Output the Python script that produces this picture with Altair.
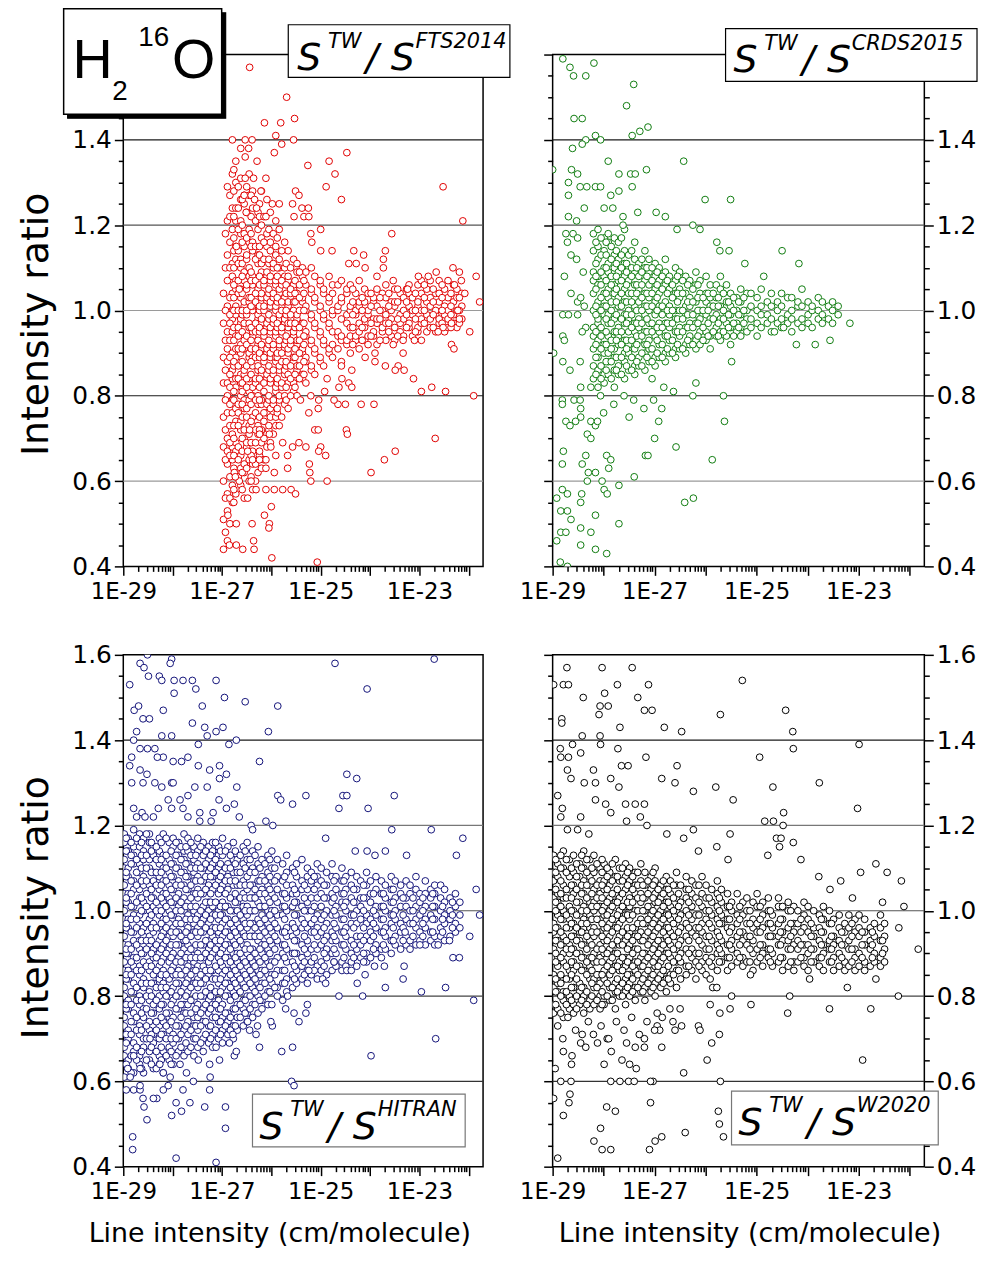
import altair as alt
import pandas as pd

# log10(S / cm molecule-1) and intensity ratio in percent.
# scattered points are (logS, ratio%); the dense core is given column by column.

fts_points = [
    (-26.44, 157), (-25.69, 150), (-26.14, 144), (-25.81, 144), (-25.53, 145), (-26.53, 140), (-26.39, 140),
    (-26.46, 138), (-26.53, 136), (-26.29, 135), (-25.91, 141), (-25.79, 139), (-25.55, 140), (-25.94, 137),
    (-24.47, 137), (-25.26, 134), (-24.83, 135), (-24.71, 132), (-24.89, 129), (-24.58, 126), (-22.52, 129),
    (-22.12, 121), (-23.56, 118), (-25.00, 119), (-26.71, 115), (-26.65, 105), (-21.85, 108), (-21.78, 102),
    (-21.98, 95), (-22.35, 92), (-22.30, 91), (-21.90, 80), (-22.96, 81), (-22.75, 82), (-22.47, 81),
    (-22.68, 70), (-23.49, 67), (-23.71, 65), (-23.98, 62), (-24.48, 72), (-24.46, 71), (-24.18, 78),
    (-23.92, 78), (-24.87, 60), (-25.20, 60), (-25.23, 64), (-25.22, 62), (-25.00, 68), (-25.07, 41),
    (-25.99, 42), (-26.85, 45), (-26.71, 45), (-26.58, 44), (-26.36, 46), (-26.35, 44), (-26.88, 52),
    (-26.71, 50), (-26.76, 55), (-26.39, 50), (-26.14, 52), (-26.00, 54), (-26.04, 50), (-26.05, 49),
    (-26.53, 131), (-26.36, 131), (-26.11, 131), (-26.55, 127), (-26.34, 126), (-26.21, 128), (-25.98, 125),
    (-25.84, 125), (-25.57, 125), (-25.38, 124), (-25.25, 124), (-26.51, 123), (-26.30, 124), (-26.11, 122),
    (-25.51, 128), (-25.44, 127), (-25.54, 122), (-25.34, 122), (-25.24, 122), (-25.20, 118), (-25.18, 116),
    (-25.00, 114), (-24.77, 114), (-24.33, 114), (-24.13, 113), (-23.69, 114), (-23.73, 112), (-23.73, 110),
    (-24.43, 111), (-24.28, 111), (-24.10, 110), (-23.86, 108), (-23.53, 107), (-23.24, 105), (-23.02, 108),
    (-22.82, 108), (-22.66, 109), (-22.32, 110), (-22.19, 109), (-22.15, 107), (-22.29, 106), (-22.08, 104),
    (-22.22, 100), (-22.19, 98), (-22.35, 97), (-22.52, 96), (-22.62, 95), (-22.96, 93), (-23.10, 93),
    (-23.33, 93), (-23.33, 90), (-23.53, 92), (-23.69, 87), (-23.43, 87), (-23.31, 86), (-23.49, 86),
    (-23.12, 84), (-23.90, 88), (-23.90, 90), (-24.10, 89), (-24.37, 86), (-24.58, 87), (-24.57, 84),
    (-24.43, 83), (-24.37, 82), (-24.63, 82), (-24.65, 78), (-24.50, 78), (-24.73, 79), (-25.04, 79),
    (-25.20, 80), (-25.41, 79), (-25.24, 76), (-25.05, 77), (-24.87, 84), (-24.92, 81), (-25.12, 72),
    (-25.05, 72), (-25.30, 68), (-25.04, 67), (-24.90, 66), (-25.44, 69), (-25.57, 68), (-25.77, 69),
    (-25.67, 66), (-25.91, 66), (-26.11, 65), (-26.01, 68), (-26.24, 71), (-26.04, 71), (-26.44, 72),
    (-26.48, 67), (-26.38, 65), (-26.24, 65), (-26.11, 63), (-25.94, 62), (-25.67, 63), (-25.77, 58),
    (-25.60, 58), (-25.51, 57), (-25.94, 58), (-26.11, 58), (-26.31, 58), (-26.48, 56), (-26.41, 60),
    (-26.65, 60), (-26.75, 62), (-26.73, 61),
]
fts_core_logS = [
    -26.97, -26.89, -26.79, -26.72, -26.62, -26.55, -26.45, -26.38, -26.27, -26.20, -26.09, -26.02, -25.91,
    -25.84, -25.73, -25.66, -25.55, -25.48, -25.37, -25.30, -25.19, -25.12, -25.01, -24.94, -24.83, -24.76,
    -24.65, -24.58, -24.47, -24.40, -24.29, -24.22, -24.11, -24.04, -23.93, -23.86, -23.75, -23.68, -23.57,
    -23.50, -23.39, -23.32, -23.21, -23.14, -23.03, -22.96, -22.85, -22.78, -22.67, -22.60, -22.49, -22.42,
    -22.31, -22.24, -22.14,
]
fts_core_pct = [
    [44, 51, 60, 68, 75, 83, 89, 97, 104],
    [46, 53, 57, 64, 67, 70, 76, 80, 83, 88, 91, 95, 101, 107, 113, 121, 129],
    [55, 59, 65, 68, 71, 76, 79, 84, 86, 90, 95, 98, 100, 104, 108, 111, 119, 124, 132, 140],
    [57, 61, 67, 69, 74, 77, 82, 84, 89, 91, 94, 99, 101, 105, 107, 112, 115, 121, 124, 130, 135],
    [59, 63, 66, 72, 74, 80, 83, 85, 90, 92, 97, 98, 103, 105, 110, 112, 118, 121, 126, 131, 138],
    [56, 62, 64, 70, 72, 77, 79, 85, 86, 91, 93, 97, 101, 102, 107, 109, 115, 118, 125, 127],
    [60, 65, 71, 73, 79, 81, 84, 89, 90, 96, 97, 102, 103, 108, 110, 116, 119, 127, 132],
    [58, 64, 67, 73, 75, 80, 82, 87, 89, 94, 95, 100, 101, 106, 108, 114, 116, 124, 128],
    [62, 65, 71, 73, 78, 80, 86, 87, 92, 93, 98, 99, 104, 105, 111, 113, 119, 123],
    [63, 69, 72, 78, 79, 85, 86, 91, 92, 97, 98, 103, 104, 109, 111, 117, 120, 128],
    [68, 71, 76, 78, 84, 85, 90, 91, 96, 97, 102, 103, 108, 109, 115, 118, 126],
    [69, 75, 77, 83, 84, 89, 90, 95, 96, 101, 102, 107, 108, 114, 116, 123],
    [73, 75, 81, 82, 88, 89, 94, 95, 100, 101, 106, 107, 113, 115, 121],
    [73, 79, 80, 86, 87, 92, 93, 98, 99, 104, 105, 110, 112, 119],
    [78, 80, 85, 86, 91, 92, 97, 98, 102, 103, 108, 110, 116],
    [77, 83, 85, 90, 91, 96, 97, 101, 102, 107, 108, 114],
    [81, 83, 88, 89, 94, 95, 100, 102, 105, 106, 112],
    [80, 86, 87, 92, 93, 98, 99, 103, 104, 109, 111],
    [84, 85, 90, 91, 96, 97, 102, 103, 108, 110],
    [83, 88, 89, 94, 95, 100, 101, 106, 109],
    [86, 87, 92, 93, 98, 99, 104, 105, 110],
    [85, 90, 91, 96, 97, 102, 103, 108],
    [88, 89, 94, 95, 100, 101, 106, 107],
    [87, 92, 93, 98, 99, 104, 105],
    [90, 91, 96, 97, 102, 103, 108],
    [89, 92, 95, 99, 100, 104, 106],
    [91, 94, 95, 100, 101, 106],
    [88, 93, 94, 98, 102, 103, 107],
    [92, 93, 97, 99, 104, 105],
    [90, 94, 96, 100, 101, 106],
    [93, 94, 99, 100, 104],
    [91, 95, 97, 101, 102, 107],
    [93, 96, 98, 102, 105],
    [92, 94, 99, 100, 104],
    [94, 95, 98, 102, 103],
    [92, 97, 98, 101, 105],
    [95, 96, 100, 104],
    [93, 97, 99, 103, 106],
    [94, 98, 100, 102],
    [93, 96, 101, 102, 105],
    [95, 97, 99, 104],
    [94, 98, 100, 103],
    [96, 97, 101, 104, 106],
    [94, 99, 100, 103],
    [95, 96, 101, 102, 106],
    [97, 98, 100, 104, 107],
    [95, 99, 102, 105],
    [96, 98, 101, 103, 107],
    [95, 99, 100, 104],
    [97, 98, 102, 104, 107],
    [95, 99, 101, 105],
    [96, 98, 100, 103, 107],
    [97, 99, 102, 106],
    [96, 100, 103, 105],
    [98, 101, 104],
]
fts_fill_logS = [
    -26.93, -26.84, -26.76, -26.67, -26.59, -26.50, -26.41, -26.32, -26.24, -26.15, -26.05, -25.96, -25.88,
    -25.79, -25.70, -25.61, -25.52, -25.43, -25.34, -24.35, -24.16, -23.98, -23.80, -23.62, -23.44, -23.26,
    -23.08, -22.90, -22.72, -22.54, -22.36, -22.19,
]
fts_fill_pct = [
    [48, 56, 65, 72, 79, 86, 93, 100, 110, 118],
    [50, 56, 61, 66, 69, 73, 78, 82, 85, 89, 93, 97, 99, 103, 110, 116, 122, 127],
    [58, 63, 66, 70, 73, 79, 81, 87, 88, 93, 96, 100, 103, 106, 110, 114, 117, 122, 128, 133],
    [61, 65, 68, 73, 76, 78, 84, 87, 91, 94, 96, 100, 104, 107, 111, 114, 119, 124, 129],
    [58, 62, 67, 70, 75, 78, 81, 83, 88, 91, 95, 99, 100, 104, 108, 111, 116, 120, 126],
    [63, 68, 69, 75, 77, 82, 84, 87, 92, 94, 99, 100, 105, 106, 112, 113, 117, 123, 129],
    [61, 66, 69, 74, 78, 80, 85, 88, 91, 93, 96, 101, 103, 107, 109, 115, 118, 122, 127],
    [60, 64, 69, 72, 76, 79, 83, 84, 89, 91, 95, 97, 102, 104, 107, 112, 115, 121],
    [66, 67, 72, 75, 79, 82, 84, 89, 90, 95, 96, 100, 101, 106, 108, 113, 115, 122, 125],
    [65, 70, 74, 76, 81, 83, 88, 89, 94, 95, 100, 101, 106, 107, 112, 116, 122],
    [72, 73, 79, 80, 86, 87, 92, 93, 98, 99, 104, 105, 111, 112, 119],
    [71, 78, 79, 85, 86, 91, 92, 97, 98, 103, 104, 110, 111, 118],
    [76, 77, 83, 84, 89, 90, 96, 97, 102, 103, 108, 110, 117],
    [75, 82, 83, 88, 90, 95, 96, 100, 102, 106, 107, 114],
    [79, 82, 87, 88, 93, 94, 99, 100, 104, 106, 111],
    [80, 84, 87, 92, 93, 97, 99, 104, 105, 110],
    [82, 85, 89, 91, 96, 97, 102, 104, 107],
    [84, 87, 90, 93, 96, 100, 103, 106, 109],
    [85, 88, 92, 94, 97, 100, 104, 107],
    [92, 96, 99, 102, 105],
    [93, 96, 100, 103],
    [94, 97, 101, 104],
    [93, 98, 100, 103],
    [95, 97, 101, 104],
    [94, 98, 102, 105],
    [96, 99, 102, 105],
    [95, 98, 100, 104],
    [97, 100, 103, 106],
    [96, 99, 102, 105],
    [97, 100, 103, 106],
    [96, 99, 101, 104],
    [97, 100, 103],
]

crds_points = [
    (-28.80, 159), (-28.66, 157), (-28.19, 158), (-28.59, 155), (-28.35, 155), (-27.41, 153), (-27.55, 148),
    (-28.58, 145), (-28.42, 145), (-28.16, 141), (-28.35, 140), (-28.06, 140), (-27.44, 141), (-27.29, 142),
    (-27.13, 143), (-28.61, 138), (-28.42, 139), (-29.00, 133), (-27.91, 135), (-26.43, 135), (-28.63, 133),
    (-28.51, 132), (-28.69, 130), (-28.46, 129), (-28.33, 129), (-28.16, 129), (-28.06, 129), (-27.70, 132),
    (-27.47, 132), (-27.38, 132), (-27.16, 133), (-28.69, 127), (-27.86, 127), (-27.70, 128), (-27.44, 129),
    (-26.01, 126), (-25.51, 126), (-27.99, 124), (-27.82, 124), (-27.62, 122), (-27.33, 123), (-26.97, 123),
    (-26.79, 122), (-28.69, 122), (-28.53, 121), (-28.38, 124), (-27.62, 120), (-26.56, 119), (-26.25, 120),
    (-26.11, 119), (-25.78, 116), (-25.72, 114), (-25.54, 114), (-24.50, 114), (-24.17, 111), (-25.23, 111),
    (-24.86, 108), (-28.77, 108), (-28.80, 99), (-28.69, 99), (-28.51, 99), (-28.80, 94), (-28.77, 93),
    (-28.64, 104), (-28.51, 102), (-28.45, 103), (-28.38, 101), (-28.35, 96), (-28.42, 95), (-28.40, 109),
    (-28.64, 113), (-28.53, 112), (-28.71, 116), (-28.60, 118), (-28.74, 118), (-28.51, 117), (-28.98, 90),
    (-28.80, 88), (-28.46, 88), (-28.66, 86), (-25.49, 88), (-24.22, 92), (-23.85, 92), (-23.56, 93),
    (-24.65, 95), (-24.47, 96), (-23.17, 97), (-26.19, 83), (-26.25, 80), (-25.65, 80), (-25.63, 74),
    (-26.63, 81), (-26.82, 82), (-27.02, 79), (-26.86, 77), (-26.92, 74), (-27.00, 70), (-26.58, 68),
    (-27.18, 66), (-27.13, 66), (-25.87, 65), (-27.40, 61), (-27.70, 59), (-26.41, 55), (-26.24, 56),
    (-28.81, 79), (-28.81, 78), (-28.58, 79), (-28.46, 79), (-28.45, 77), (-28.45, 75), (-28.74, 74),
    (-28.66, 73), (-28.55, 74), (-28.25, 74), (-28.16, 73), (-28.12, 74), (-28.32, 71), (-28.25, 70),
    (-28.79, 67), (-28.81, 64), (-28.42, 64), (-28.35, 66), (-27.94, 66), (-27.86, 65), (-27.90, 63),
    (-28.30, 62), (-28.16, 62), (-28.32, 60), (-28.03, 60), (-27.99, 58), (-27.93, 57), (-28.81, 58),
    (-28.92, 56), (-28.71, 57), (-28.43, 57), (-28.45, 55), (-28.84, 53), (-28.71, 53), (-28.64, 51),
    (-28.45, 49), (-28.16, 52), (-27.70, 50), (-28.84, 48), (-28.92, 46), (-28.74, 48), (-28.45, 45),
    (-28.25, 48), (-28.16, 44), (-27.94, 43), (-28.85, 41), (-28.71, 40), (-28.45, 82), (-28.25, 82),
    (-28.06, 80), (-27.80, 78), (-27.60, 80), (-27.41, 79), (-27.21, 77), (-27.05, 84), (-28.00, 76),
    (-27.50, 75),
]
crds_core_logS = [
    -28.20, -28.11, -27.99, -27.91, -27.79, -27.71, -27.59, -27.51, -27.39, -27.31, -27.19, -27.11, -26.99,
    -26.91, -26.79, -26.71, -26.59, -26.51, -26.39, -26.31, -26.19, -26.11, -25.99, -25.91, -25.79, -25.71,
    -25.59, -25.51, -25.39, -25.31, -25.19, -25.11, -24.99, -24.91, -24.79, -24.71, -24.59, -24.51, -24.39,
    -24.31, -24.19, -24.11, -23.99, -23.91, -23.79, -23.71, -23.59, -23.51, -23.40,
]
crds_core_pct = [
    [84, 87, 91, 94, 96, 100, 104, 107, 109, 114, 118],
    [82, 86, 89, 93, 97, 98, 102, 106, 108, 112, 115, 119],
    [83, 85, 90, 92, 95, 99, 101, 104, 108, 110, 114, 117],
    [85, 88, 90, 94, 97, 99, 103, 105, 109, 111, 116, 118],
    [82, 86, 89, 91, 95, 98, 100, 104, 106, 110, 113, 117],
    [85, 87, 92, 94, 96, 101, 103, 107, 109, 112, 116],
    [84, 88, 90, 93, 97, 99, 102, 105, 108, 111, 114, 119],
    [86, 90, 92, 95, 98, 100, 104, 107, 110, 113],
    [85, 87, 91, 95, 97, 101, 103, 106, 109, 112, 116],
    [87, 89, 93, 96, 98, 102, 105, 108, 111],
    [86, 90, 92, 95, 99, 101, 104, 107, 110, 114],
    [88, 91, 93, 97, 100, 103, 106, 109, 112],
    [87, 89, 94, 96, 99, 102, 105, 108, 111],
    [89, 92, 95, 97, 101, 104, 107, 110],
    [88, 90, 94, 97, 100, 102, 106, 109, 112],
    [90, 93, 96, 99, 101, 105, 108],
    [89, 91, 95, 98, 100, 104, 107, 110],
    [91, 94, 96, 100, 103, 105, 109],
    [90, 92, 96, 99, 101, 104, 108],
    [92, 94, 97, 101, 103, 107],
    [91, 93, 97, 99, 102, 106, 109],
    [92, 95, 98, 100, 104, 107],
    [93, 95, 99, 102, 104, 108],
    [91, 94, 98, 101, 103, 106],
    [94, 96, 99, 103, 106],
    [93, 95, 98, 101, 105, 108],
    [94, 97, 99, 102, 106],
    [92, 96, 99, 101, 104],
    [95, 97, 100, 103],
    [94, 96, 99, 102, 105],
    [95, 98, 100, 104],
    [96, 98, 101, 104],
    [94, 97, 100, 103],
    [96, 99, 101, 105],
    [97, 99, 102],
    [95, 98, 101, 104],
    [97, 100, 102],
    [96, 98, 101, 104],
    [97, 99, 103],
    [95, 98, 100, 103],
    [97, 101, 102],
    [96, 98, 101, 105],
    [97, 99, 102],
    [96, 100, 101],
    [98, 100, 103],
    [97, 99, 102],
    [98, 101],
    [97, 100, 102],
    [99, 101],
]
crds_fill_logS = [
    -28.15, -28.05, -27.95, -27.85, -27.75, -27.65, -27.55, -27.45, -27.35, -27.25, -27.15, -27.05, -26.95,
    -26.85, -26.75, -26.65, -26.55, -26.45, -26.35, -26.25, -26.15, -26.05, -25.95, -25.85, -25.75, -25.65,
    -25.55, -25.45, -25.35, -25.25,
]
crds_fill_pct = [
    [85, 89, 92, 95, 99, 101, 105, 108, 111, 116],
    [84, 87, 91, 94, 96, 100, 103, 106, 109, 113, 117],
    [86, 88, 92, 95, 98, 101, 104, 107, 110, 113, 116],
    [84, 88, 91, 93, 97, 100, 102, 106, 108, 112, 115],
    [86, 89, 93, 95, 99, 102, 105, 108, 111, 114],
    [85, 89, 92, 95, 98, 101, 104, 107, 110, 113, 117],
    [87, 91, 93, 97, 99, 102, 106, 109, 111],
    [86, 89, 93, 96, 99, 102, 104, 108, 110, 114],
    [88, 92, 94, 97, 100, 104, 106, 110],
    [87, 90, 94, 97, 100, 103, 106, 109, 112],
    [89, 92, 95, 98, 101, 104, 108, 110],
    [88, 91, 95, 97, 101, 104, 107, 110],
    [90, 93, 96, 100, 103, 106, 109],
    [89, 92, 96, 99, 101, 105, 108],
    [91, 94, 97, 100, 104, 107],
    [90, 93, 97, 100, 103, 106],
    [92, 95, 98, 102, 104, 108],
    [91, 95, 98, 100, 104, 107],
    [93, 96, 99, 102, 106],
    [92, 96, 99, 102, 105],
    [94, 97, 100, 103, 106],
    [93, 96, 100, 103],
    [94, 97, 100, 104],
    [95, 98, 101, 104],
    [94, 97, 101, 103],
    [95, 98, 100, 104],
    [96, 99, 102],
    [94, 97, 100, 103],
    [96, 99, 102],
    [97, 100, 103],
]

hitran_points = [
    (-28.66, 158), (-28.58, 157), (-28.51, 160), (-28.02, 159), (-28.05, 158), (-28.87, 153), (-28.49, 155),
    (-28.27, 155), (-28.22, 154), (-27.97, 154), (-27.79, 154), (-27.60, 154), (-27.12, 154), (-27.97, 151),
    (-27.53, 152), (-26.95, 150), (-26.53, 149), (-25.87, 148), (-28.78, 147), (-28.19, 147), (-27.40, 148),
    (-28.69, 148), (-28.60, 145), (-28.47, 145), (-27.60, 144), (-27.35, 143), (-27.12, 142), (-26.98, 143),
    (-27.30, 141), (-26.06, 142), (-28.73, 142), (-28.22, 141), (-28.02, 141), (-28.79, 140), (-27.48, 139),
    (-26.86, 139), (-26.71, 140), (-28.66, 138), (-28.51, 138), (-28.36, 138), (-28.19, 136), (-28.31, 136),
    (-28.83, 136), (-27.69, 136), (-27.82, 135), (-27.99, 135), (-27.48, 134), (-27.25, 133), (-27.05, 134),
    (-26.91, 132), (-27.05, 131), (-26.24, 135), (-28.87, 134), (-28.66, 133), (-28.52, 132), (-28.02, 130),
    (-28.83, 130), (-28.60, 130), (-28.36, 130), (-28.22, 129), (-27.99, 130), (-27.55, 129), (-27.30, 129),
    (-26.70, 129), (-28.79, 124), (-28.62, 123), (-28.39, 122), (-28.56, 122), (-28.73, 122), (-28.29, 124),
    (-28.09, 126), (-27.85, 126), (-27.69, 127), (-28.02, 124), (-27.79, 124), (-27.45, 123), (-27.18, 123),
    (-27.06, 126), (-26.91, 124), (-26.75, 125), (-27.22, 121), (-26.65, 122), (-27.45, 121), (-27.69, 122),
    (-25.87, 127), (-25.81, 126), (-25.57, 125), (-25.30, 127), (-26.41, 120), (-26.38, 119), (-26.11, 121),
    (-25.97, 120), (-24.90, 117), (-23.56, 119), (-22.76, 119), (-22.12, 117), (-22.25, 113), (-24.71, 158),
    (-22.70, 159), (-24.06, 152), (-24.47, 132), (-24.27, 131), (-24.55, 127), (-24.47, 127), (-24.63, 124),
    (-24.04, 124), (-23.51, 127), (-24.30, 114), (-24.06, 114), (-23.90, 113), (-23.69, 114), (-23.26, 113),
    (-21.85, 105), (-21.78, 99), (-21.98, 94), (-22.32, 89), (-21.90, 79), (-22.67, 70), (-23.98, 66),
    (-22.96, 81), (-22.47, 82), (-23.33, 84), (-23.31, 87), (-23.69, 82), (-23.91, 87), (-23.71, 87),
    (-24.13, 88), (-24.26, 83), (-24.10, 85), (-24.15, 80), (-24.63, 80), (-24.73, 88), (-24.96, 84),
    (-24.90, 83), (-25.24, 86), (-24.47, 86), (-24.38, 86), (-25.27, 78), (-25.30, 76), (-25.44, 74),
    (-25.54, 76), (-25.71, 77), (-25.67, 80), (-25.57, 68), (-25.79, 67), (-25.98, 73), (-26.01, 74),
    (-25.59, 60), (-25.54, 59), (-26.24, 56), (-26.93, 54), (-26.93, 49), (-27.12, 41), (-27.93, 42),
    (-28.81, 47), (-28.81, 44), (-23.29, 95), (-22.99, 92), (-22.62, 92), (-22.39, 93), (-22.19, 89),
    (-28.79, 58), (-28.66, 58), (-28.60, 56), (-28.58, 54), (-28.52, 51), (-28.02, 52), (-27.82, 53),
    (-27.65, 55), (-27.35, 54), (-28.32, 56), (-28.09, 59), (-27.79, 58), (-27.58, 60), (-27.25, 58),
    (-27.24, 61), (-28.66, 59), (-28.86, 61), (-28.91, 63), (-28.39, 56), (-28.19, 58), (-28.94, 58),
    (-27.93, 55), (-27.48, 65), (-27.25, 64), (-27.05, 65), (-26.75, 66), (-27.12, 68), (-26.85, 69),
    (-26.71, 67), (-26.44, 72), (-26.31, 71), (-26.28, 73), (-26.48, 74), (-26.24, 68), (-26.78, 71),
    (-27.85, 64), (-27.72, 62), (-28.05, 61), (-28.26, 64), (-28.46, 70), (-28.19, 62), (-28.66, 63),
    (-28.79, 66),
]
hitran_core_logS = [
    -28.98, -28.90, -28.79, -28.67, -28.59, -28.47, -28.39, -28.27, -28.19, -28.07, -27.99, -27.88, -27.77,
    -27.69, -27.57, -27.49, -27.38, -27.27, -27.19, -27.07, -26.99, -26.88, -26.77, -26.69, -26.57, -26.49,
    -26.38, -26.27, -26.19, -26.07, -25.99, -25.88, -25.77, -25.69, -25.57, -25.49, -25.38, -25.27, -25.19,
    -25.07, -24.99, -24.88, -24.77, -24.69, -24.57, -24.49, -24.38, -24.27, -24.19, -24.07, -23.99, -23.88,
    -23.77, -23.69, -23.57, -23.49, -23.38, -23.27, -23.19, -23.07, -22.99, -22.88, -22.77, -22.69, -22.57,
    -22.49, -22.38, -22.27, -22.18,
]
hitran_core_pct = [
    [61, 66, 68, 73, 75, 80, 82, 86, 88, 92, 94, 98, 100, 104, 106, 110, 112, 116, 118],
    [63, 65, 70, 72, 77, 79, 84, 86, 90, 92, 96, 98, 102, 104, 108, 110, 114, 117],
    [62, 67, 69, 74, 76, 81, 83, 87, 89, 93, 95, 99, 101, 105, 107, 111, 113, 115, 119],
    [64, 66, 71, 73, 78, 80, 85, 87, 91, 93, 97, 99, 103, 105, 109, 111, 115, 118],
    [62, 68, 70, 75, 77, 82, 84, 88, 90, 94, 96, 100, 102, 106, 108, 112, 114, 117],
    [65, 67, 72, 74, 79, 81, 86, 88, 92, 94, 98, 100, 104, 106, 110, 112, 116, 118],
    [63, 69, 71, 76, 78, 83, 85, 89, 91, 95, 97, 101, 103, 107, 109, 113, 115],
    [64, 66, 70, 73, 77, 80, 84, 87, 90, 93, 96, 99, 101, 105, 108, 111, 114, 117],
    [62, 67, 71, 74, 78, 81, 83, 86, 89, 92, 95, 98, 102, 104, 107, 110, 113, 118],
    [65, 68, 72, 75, 76, 80, 84, 88, 91, 94, 97, 100, 103, 106, 109, 112, 116],
    [64, 69, 71, 75, 79, 82, 85, 87, 90, 94, 96, 99, 102, 105, 108, 111, 115, 117],
    [67, 70, 73, 77, 80, 83, 86, 89, 92, 95, 98, 101, 104, 107, 110, 113, 116],
    [66, 68, 72, 76, 78, 82, 85, 88, 91, 93, 97, 100, 103, 106, 109, 112, 114, 118],
    [67, 71, 74, 78, 81, 84, 87, 90, 92, 96, 99, 102, 105, 108, 111, 114, 117],
    [66, 70, 73, 75, 79, 83, 86, 88, 91, 95, 97, 100, 104, 107, 109, 112, 115],
    [68, 72, 75, 78, 82, 84, 87, 90, 94, 96, 99, 103, 105, 108, 111, 114, 117],
    [67, 70, 74, 77, 80, 83, 87, 89, 92, 95, 98, 101, 104, 107, 110, 113, 116],
    [69, 73, 76, 79, 81, 85, 88, 91, 93, 97, 100, 102, 106, 109, 112, 115],
    [68, 71, 75, 78, 80, 84, 86, 90, 94, 96, 99, 101, 105, 108, 111, 114, 116],
    [70, 74, 77, 79, 83, 86, 89, 92, 95, 98, 100, 104, 107, 110, 113, 115],
    [69, 72, 75, 78, 82, 85, 87, 91, 94, 97, 99, 102, 106, 109, 113, 117],
    [71, 74, 76, 80, 83, 86, 89, 92, 95, 98, 101, 105, 108, 111, 115],
    [70, 73, 77, 81, 84, 87, 90, 93, 96, 100, 103, 106, 109, 112, 116],
    [72, 75, 78, 82, 85, 88, 90, 94, 97, 100, 102, 106, 109, 112],
    [73, 77, 79, 83, 86, 89, 92, 95, 98, 101, 104, 107, 111, 115],
    [74, 76, 80, 84, 87, 90, 92, 96, 99, 101, 105, 108, 112, 116],
    [75, 78, 82, 85, 88, 91, 94, 97, 100, 103, 106, 110, 114],
    [76, 80, 83, 86, 89, 93, 95, 98, 102, 104, 107, 111, 115],
    [77, 79, 83, 86, 90, 92, 96, 99, 101, 105, 108, 112],
    [78, 81, 85, 88, 91, 94, 97, 100, 103, 106, 109, 113],
    [78, 83, 85, 88, 92, 95, 98, 100, 104, 107, 110, 114],
    [80, 82, 86, 89, 93, 96, 99, 102, 105, 108, 112],
    [79, 83, 86, 90, 92, 95, 99, 101, 104, 107, 111],
    [81, 84, 88, 91, 94, 96, 100, 103, 106, 109, 113],
    [82, 85, 88, 90, 94, 97, 101, 104, 106, 110],
    [83, 86, 90, 93, 95, 99, 102, 104, 108, 111],
    [84, 87, 89, 92, 96, 98, 101, 105, 107, 112],
    [83, 86, 90, 93, 96, 100, 102, 105, 108, 110],
    [85, 88, 91, 95, 97, 100, 103, 107, 109],
    [84, 87, 91, 94, 96, 99, 103, 106, 108, 111],
    [86, 88, 92, 95, 98, 101, 104, 107, 110],
    [85, 89, 91, 94, 97, 100, 103, 106, 109],
    [86, 90, 93, 95, 99, 102, 104, 108, 111],
    [87, 90, 93, 96, 99, 101, 105, 108],
    [86, 88, 92, 95, 98, 102, 104, 107, 110],
    [87, 91, 94, 96, 100, 102, 105, 108],
    [88, 90, 93, 97, 99, 103, 106, 109],
    [87, 91, 94, 97, 100, 102, 105, 108],
    [89, 92, 94, 98, 101, 103, 107],
    [88, 90, 94, 97, 99, 103, 106, 109],
    [89, 93, 95, 98, 102, 104, 107],
    [90, 92, 96, 99, 101, 105, 108],
    [89, 91, 95, 98, 101, 104, 107],
    [91, 94, 96, 100, 103, 106],
    [90, 93, 97, 99, 102, 105, 108],
    [92, 94, 98, 100, 103, 107],
    [91, 95, 97, 101, 104, 106],
    [92, 94, 98, 101, 103, 107],
    [91, 93, 97, 100, 104, 106],
    [92, 96, 98, 101, 105, 108],
    [93, 95, 99, 102, 104],
    [92, 96, 98, 101, 104, 107],
    [93, 95, 99, 103, 105],
    [92, 94, 98, 101, 104, 106],
    [94, 96, 100, 103, 106],
    [93, 97, 99, 102, 105],
    [94, 98, 100, 103],
    [95, 97, 101, 104],
    [96, 99, 102],
]
hitran_fill_logS = [
    -28.94, -28.84, -28.73, -28.63, -28.53, -28.43, -28.33, -28.23, -28.13, -28.03, -27.93, -27.83, -27.73,
    -27.63, -27.53, -27.43, -27.33, -27.23, -27.13, -27.03, -26.93, -26.83, -26.73, -26.63, -26.53, -26.43,
    -26.33, -26.23, -26.13, -26.03, -25.93, -25.73, -25.53, -25.33, -25.13, -24.93, -24.73, -24.53, -24.33,
    -24.13, -23.93, -23.73, -23.53, -23.33, -23.13, -22.93, -22.73, -22.53, -22.33,
]
hitran_fill_pct = [
    [64, 69, 71, 77, 78, 84, 85, 90, 91, 96, 97, 102, 103, 108, 109, 114, 117],
    [62, 66, 71, 74, 78, 81, 85, 88, 91, 95, 98, 101, 104, 107, 111, 113, 116],
    [65, 68, 72, 75, 79, 82, 86, 89, 92, 96, 98, 102, 106, 109, 112, 117],
    [63, 67, 72, 76, 79, 83, 86, 90, 93, 95, 100, 103, 107, 110, 113, 116],
    [65, 70, 73, 77, 80, 83, 87, 91, 93, 97, 101, 104, 107, 110, 113, 118],
    [64, 68, 71, 76, 80, 83, 87, 90, 93, 96, 99, 103, 105, 109, 114, 116],
    [63, 67, 72, 74, 79, 82, 86, 89, 92, 96, 100, 102, 106, 109, 112, 115],
    [65, 68, 71, 75, 78, 82, 85, 88, 91, 94, 97, 100, 103, 106, 109, 112, 116],
    [66, 70, 73, 76, 80, 82, 85, 90, 93, 96, 98, 101, 104, 107, 110, 113, 117],
    [64, 67, 70, 74, 78, 81, 86, 89, 92, 95, 99, 102, 105, 108, 111, 114],
    [66, 70, 73, 77, 80, 83, 85, 88, 92, 95, 97, 100, 103, 106, 110, 113, 116],
    [68, 71, 75, 78, 81, 85, 88, 90, 94, 97, 100, 102, 106, 109, 112, 115],
    [69, 73, 76, 80, 83, 86, 89, 93, 95, 98, 101, 105, 108, 111, 115],
    [68, 72, 76, 79, 82, 85, 89, 91, 94, 98, 101, 103, 106, 110, 113, 116],
    [70, 73, 77, 80, 83, 86, 89, 92, 95, 98, 101, 104, 107, 110, 113],
    [69, 73, 76, 80, 83, 85, 89, 92, 95, 97, 100, 104, 107, 110, 115],
    [71, 74, 78, 81, 84, 86, 90, 93, 96, 99, 102, 105, 108, 111, 114],
    [70, 73, 77, 80, 82, 86, 89, 92, 95, 98, 102, 104, 108, 110, 113],
    [72, 75, 78, 81, 84, 87, 91, 93, 96, 99, 102, 106, 109, 112, 116],
    [71, 74, 77, 81, 84, 88, 90, 93, 96, 99, 101, 105, 108, 111, 114],
    [73, 76, 80, 83, 86, 89, 92, 95, 98, 101, 104, 107, 110, 114],
    [72, 75, 79, 82, 85, 88, 91, 94, 97, 100, 103, 107, 110, 113],
    [73, 77, 80, 83, 86, 89, 92, 95, 98, 102, 104, 107, 111, 114],
    [75, 78, 81, 84, 87, 90, 93, 96, 99, 103, 106, 109, 113],
    [76, 79, 82, 85, 88, 91, 94, 97, 100, 103, 106, 110, 114],
    [77, 80, 83, 86, 89, 91, 94, 97, 100, 103, 106, 109, 112],
    [78, 81, 84, 87, 90, 94, 96, 100, 103, 105, 109, 113],
    [79, 82, 85, 88, 91, 94, 97, 101, 104, 107, 110],
    [80, 83, 86, 89, 92, 95, 98, 101, 104, 107, 111],
    [81, 84, 87, 90, 93, 96, 99, 102, 105, 108, 112],
    [82, 85, 88, 91, 94, 97, 100, 103, 107, 110],
    [83, 86, 89, 92, 95, 98, 101, 104, 108],
    [84, 87, 90, 93, 96, 99, 102, 105, 109],
    [85, 88, 91, 94, 97, 100, 103, 106],
    [86, 89, 92, 95, 98, 101, 105, 108],
    [87, 90, 93, 96, 99, 103, 106],
    [88, 91, 94, 97, 100, 103, 107],
    [89, 92, 95, 98, 101, 104, 107],
    [89, 92, 96, 99, 102, 105],
    [90, 93, 96, 100, 103, 106],
    [91, 94, 97, 100, 104],
    [92, 95, 98, 101, 104],
    [93, 96, 99, 102, 105],
    [93, 96, 99, 103],
    [94, 97, 100, 103],
    [94, 97, 100, 103],
    [95, 98, 101, 104],
    [95, 98, 101],
    [96, 99, 102],
]

w2020_points = [
    (-28.72, 157), (-28.03, 157), (-27.44, 157), (-28.79, 153), (-28.69, 153), (-28.98, 153), (-28.40, 150),
    (-27.98, 151), (-27.73, 153), (-27.12, 153), (-25.28, 154), (-27.33, 150), (-28.09, 146), (-27.91, 148),
    (-28.07, 148), (-27.20, 147), (-27.05, 147), (-25.71, 146), (-24.43, 147), (-28.82, 145), (-28.82, 144),
    (-27.68, 143), (-26.81, 143), (-26.47, 142), (-24.29, 142), (-28.42, 141), (-28.07, 141), (-28.85, 138),
    (-28.61, 139), (-28.06, 139), (-22.99, 139), (-27.72, 138), (-28.45, 137), (-27.17, 136), (-28.84, 136),
    (-28.69, 136), (-24.28, 138), (-24.94, 136), (-27.65, 134), (-27.52, 134), (-26.56, 134), (-28.71, 133),
    (-28.20, 133), (-28.64, 131), (-28.38, 130), (-28.16, 130), (-27.86, 131), (-27.70, 129), (-26.86, 131),
    (-26.60, 130), (-25.80, 129), (-26.24, 128), (-24.68, 129), (-23.77, 130), (-25.46, 126), (-23.02, 124),
    (-28.90, 127), (-28.81, 124), (-28.16, 126), (-27.96, 125), (-27.86, 123), (-27.57, 125), (-27.38, 125),
    (-27.20, 125), (-27.55, 121), (-27.28, 122), (-27.15, 120), (-28.84, 122), (-28.45, 122), (-28.29, 118),
    (-28.51, 119), (-28.71, 119), (-24.84, 121), (-24.67, 121), (-24.48, 120), (-24.47, 123), (-26.76, 118),
    (-26.43, 117), (-26.24, 119), (-25.52, 118), (-24.61, 117), (-24.52, 117), (-24.28, 116), (-24.78, 113),
    (-24.55, 115), (-26.14, 114), (-25.78, 115), (-24.13, 112), (-25.56, 112), (-22.66, 111), (-22.44, 109),
    (-22.96, 109), (-22.16, 107), (-23.35, 107), (-23.56, 105), (-23.78, 108), (-22.53, 102), (-22.11, 101),
    (-22.21, 96), (-21.83, 91), (-23.12, 103), (-22.22, 80), (-22.76, 77), (-23.57, 77), (-24.35, 80),
    (-24.39, 76), (-25.11, 78), (-23.22, 82), (-22.66, 84), (-23.96, 84), (-25.12, 85), (-25.91, 84),
    (-25.86, 82), (-25.78, 82), (-25.49, 80), (-25.52, 77), (-25.72, 76), (-26.14, 73), (-26.11, 72),
    (-25.91, 78), (-26.50, 77), (-26.64, 74), (-26.60, 72), (-26.47, 73), (-25.73, 71), (-25.88, 69),
    (-25.97, 65), (-26.86, 68), (-26.43, 62), (-27.20, 70), (-27.38, 68), (-27.36, 63), (-27.49, 64),
    (-27.64, 65), (-26.95, 73), (-26.90, 72), (-27.99, 64), (-28.63, 64), (-28.79, 67), (-28.95, 63),
    (-28.42, 71), (-28.12, 69), (-27.93, 70), (-28.84, 60), (-28.64, 60), (-27.86, 60), (-27.68, 60),
    (-27.51, 60), (-27.40, 60), (-27.03, 60), (-27.08, 60), (-25.71, 60), (-28.98, 56), (-28.66, 57),
    (-28.68, 55), (-27.94, 54), (-27.77, 53), (-27.08, 55), (-28.79, 52), (-28.06, 49), (-28.19, 46),
    (-28.03, 44), (-27.86, 44), (-27.10, 44), (-26.99, 46), (-26.86, 47), (-26.40, 48), (-25.75, 53),
    (-25.73, 50), (-25.65, 47), (-28.90, 42), (-22.92, 65), (-28.90, 73), (-28.80, 70), (-28.70, 75),
    (-28.55, 72), (-28.45, 69), (-28.30, 74), (-28.20, 71), (-28.05, 73), (-27.90, 70), (-27.75, 74),
    (-27.60, 72), (-27.45, 75), (-27.30, 71), (-27.15, 74), (-27.00, 72), (-26.85, 75), (-26.70, 77),
    (-28.62, 66), (-28.35, 68), (-27.85, 67), (-27.55, 69), (-27.20, 68), (-26.95, 76),
]
w2020_core_logS = hitran_core_logS[:66]
w2020_core_pct = [
    [76, 78, 82, 85, 89, 91, 95, 97, 101, 103, 107, 109, 113],
    [77, 81, 83, 87, 89, 93, 96, 99, 102, 104, 108, 111],
    [75, 79, 81, 84, 88, 90, 94, 98, 100, 103, 106, 110, 114],
    [77, 80, 84, 86, 90, 92, 96, 98, 101, 105, 108, 112],
    [76, 78, 82, 86, 88, 91, 94, 97, 100, 104, 106, 109, 113],
    [78, 81, 83, 87, 90, 93, 95, 99, 102, 105, 108, 111],
    [76, 80, 82, 86, 89, 92, 96, 98, 101, 104, 107, 110, 114],
    [77, 79, 84, 87, 89, 93, 96, 99, 102, 106, 108, 112],
    [78, 82, 84, 88, 90, 94, 96, 100, 102, 105, 109, 113],
    [77, 80, 83, 85, 89, 92, 95, 98, 101, 104, 107, 110],
    [78, 80, 84, 86, 90, 93, 96, 99, 101, 105, 107, 111],
    [79, 82, 85, 88, 91, 94, 97, 100, 103, 106, 109],
    [77, 81, 83, 87, 90, 92, 96, 98, 102, 104, 108, 112],
    [80, 82, 86, 88, 92, 94, 97, 100, 103, 107, 110],
    [78, 81, 84, 87, 89, 93, 95, 99, 101, 105, 108, 111],
    [80, 83, 85, 89, 92, 95, 98, 101, 103, 107, 110],
    [79, 82, 86, 88, 91, 94, 96, 100, 104, 106, 109],
    [81, 83, 87, 89, 93, 95, 98, 102, 104, 107, 111],
    [79, 82, 85, 88, 90, 94, 97, 100, 103, 106, 109],
    [81, 84, 86, 90, 93, 96, 99, 101, 105, 108],
    [80, 83, 87, 89, 92, 95, 98, 102, 104, 107, 110],
    [82, 85, 88, 91, 93, 97, 100, 103, 106],
    [81, 84, 86, 90, 94, 96, 99, 102, 105, 108],
    [83, 85, 89, 92, 95, 98, 101, 104, 107],
    [82, 86, 88, 91, 94, 97, 100, 103, 106, 109],
    [84, 88, 90, 93, 96, 99, 102, 106],
    [85, 87, 91, 94, 97, 100, 103, 105, 108],
    [86, 89, 91, 95, 98, 101, 104, 107],
    [84, 88, 90, 94, 96, 99, 103, 106],
    [86, 88, 92, 95, 97, 101, 104, 108],
    [85, 89, 91, 94, 98, 100, 103, 106],
    [87, 89, 93, 96, 99, 102, 105],
    [86, 90, 92, 95, 98, 101, 104, 107],
    [88, 90, 93, 97, 99, 102, 105],
    [86, 89, 92, 96, 98, 101, 104],
    [87, 91, 93, 96, 100, 102],
    [88, 90, 94, 97, 99, 104],
    [87, 89, 93, 95, 99, 102],
    [88, 92, 94, 97, 100, 103],
    [86, 90, 93, 96, 98, 102],
    [88, 91, 95, 97, 101, 104],
    [87, 90, 92, 96, 99, 102],
    [89, 91, 94, 97, 100, 103],
    [87, 90, 94, 96, 99],
    [88, 92, 94, 97, 101, 103],
    [86, 89, 93, 95, 98, 101],
    [87, 91, 93, 96, 100, 102],
    [86, 88, 92, 95, 97, 101],
    [88, 91, 93, 97, 100],
    [87, 89, 92, 96, 99, 102],
    [86, 90, 92, 95, 98, 101],
    [88, 91, 94, 96, 100],
    [87, 89, 93, 96, 99],
    [86, 90, 92, 95, 98, 101],
    [88, 91, 93, 97, 100],
    [86, 89, 92, 94, 98],
    [87, 90, 93, 96, 99],
    [86, 88, 92, 95, 97],
    [87, 91, 93, 96, 99],
    [86, 89, 91, 95, 98],
    [87, 90, 94, 96, 99],
    [86, 88, 92, 95, 98],
    [87, 91, 93, 96],
    [88, 90, 94, 97],
    [87, 89, 93, 96, 99],
    [88, 91, 94, 97],
]
w2020_fill_logS = [
    -28.94, -28.84, -28.73, -28.63, -28.53, -28.43, -28.33, -28.23, -28.13, -28.03, -27.93, -27.83, -27.73,
    -27.63, -27.53, -27.43, -27.33, -27.23, -27.13, -27.03, -26.93, -26.83, -26.73, -26.63, -26.53, -26.33,
    -26.13, -25.93, -25.73, -25.53, -25.33, -25.13, -24.93, -24.73, -24.53, -24.33, -24.13, -23.93, -23.73,
    -23.53, -23.33, -23.13, -22.93, -22.73, -22.53,
]
w2020_fill_pct = [
    [78, 81, 84, 88, 90, 93, 96, 100, 102, 105, 109, 112],
    [76, 80, 83, 85, 89, 92, 95, 98, 101, 104, 107, 110, 113],
    [78, 81, 84, 87, 91, 93, 96, 99, 103, 105, 109, 112],
    [79, 82, 85, 88, 91, 94, 97, 100, 103, 106, 110],
    [77, 80, 84, 87, 90, 93, 96, 99, 102, 105, 108, 111],
    [79, 82, 86, 89, 92, 95, 97, 100, 104, 106, 110, 113],
    [78, 81, 85, 88, 91, 94, 97, 100, 103, 106, 109, 112],
    [80, 83, 86, 89, 92, 95, 98, 101, 104, 107, 110],
    [79, 82, 85, 88, 91, 95, 98, 101, 103, 106, 111],
    [78, 81, 85, 88, 91, 94, 97, 100, 103, 106, 109, 112],
    [80, 83, 87, 90, 93, 96, 99, 102, 105, 108, 110],
    [79, 82, 86, 89, 92, 95, 98, 101, 104, 107, 111],
    [81, 84, 87, 90, 93, 96, 99, 102, 105, 108],
    [80, 83, 86, 89, 92, 95, 98, 101, 104, 107, 110],
    [82, 85, 88, 91, 94, 96, 99, 102, 106, 109],
    [81, 84, 87, 90, 93, 96, 99, 102, 105, 108],
    [82, 85, 88, 91, 94, 97, 100, 103, 106, 109],
    [81, 84, 87, 90, 93, 97, 100, 103, 106],
    [83, 86, 89, 92, 95, 98, 101, 104, 107],
    [82, 85, 88, 91, 94, 97, 100, 103, 106, 109],
    [84, 87, 90, 93, 96, 99, 102, 105],
    [83, 86, 89, 92, 95, 98, 101, 104, 107],
    [84, 87, 90, 93, 96, 99, 102, 105],
    [85, 88, 91, 94, 97, 100, 103, 106],
    [86, 89, 92, 95, 98, 101, 104],
    [87, 90, 93, 96, 99, 102, 105],
    [87, 90, 93, 96, 99, 102, 106],
    [88, 91, 94, 97, 100, 103],
    [88, 91, 94, 97, 100, 103],
    [89, 92, 95, 98, 101],
    [89, 92, 95, 98, 101],
    [88, 91, 94, 97, 100],
    [89, 92, 95, 98, 101],
    [88, 91, 94, 97, 100],
    [89, 92, 95, 98],
    [88, 91, 94, 97, 100],
    [89, 92, 95, 98],
    [88, 91, 94, 97],
    [89, 92, 95, 98],
    [88, 91, 94, 97],
    [89, 92, 95],
    [88, 91, 94, 97],
    [89, 92, 95],
    [89, 92, 95],
    [90, 93],
]

GRID_AT = [1.4, 1.2, 1.0, 0.8, 0.6]
TOP_SHADES = ["#1a1a1a", "#555555", "#9a9a9a", "#1a1a1a", "#9a9a9a"]
BOTTOM_SHADES = ["#1a1a1a", "#777777", "#555555", "#444444", "#333333"]

FONT = "DejaVu Sans"
ONE = pd.DataFrame({"n": [0]})


def table(points, *column_groups):
    xs, ys = [], []
    for logs, pcts in column_groups:
        for x, col in zip(logs, pcts):
            for y in col:
                xs.append(x)
                ys.append(y)
    for x, y in points:
        xs.append(x)
        ys.append(y)
    return pd.DataFrame({"S": [10.0 ** x for x in xs], "ratio": [y / 100 for y in ys]})


X_TICKS = [k * 10.0 ** e for e in range(-29, -22) for k in range(1, 10)] + [1e-22]
Y_TICKS = [round(0.4 + 0.05 * i, 2) for i in range(25)]
DECADE = "abs(log(datum.value) / LN10 - round(log(datum.value) / LN10)) < 0.01"
MAJOR_Y = "abs(datum.value * 5 - round(datum.value * 5)) < 0.01"
XSCALE = alt.Scale(type="log", domain=[1e-29, 10 ** -21.71], nice=False)
YSCALE = alt.Scale(domain=[0.4, 1.6], nice=False, zero=False)


def x_axis(title, title_x):
    kw = dict(values=X_TICKS, tickSize={"condition": {"test": DECADE, "value": 9}, "value": 5},
              labelExpr=f"{DECADE} && round(log(datum.value) / LN10) % 2 != 0 ? '1E' + round(log(datum.value) / LN10) : ''",
              tickWidth=1.5, tickColor="black", domain=False, grid=False, labelFontSize=23,
              labelPadding=5, labelOverlap=False, labelFlush=False, title=title)
    if title:
        kw.update(titleFontSize=27, titlePadding=17, titleX=title_x)
    return alt.Axis(**kw)


def y_axis(side, labels=True, title=None, title_y=None, top_row=False):
    kw = dict(orient=side, values=Y_TICKS, tickSize={"condition": {"test": MAJOR_Y, "value": 9}, "value": 5},
              tickWidth=1.5, tickColor="black", domain=False, grid=False, labels=labels, title=title)
    if labels:
        show = f"{MAJOR_Y} && datum.value < 1.55" if top_row else MAJOR_Y
        kw.update(labelExpr=f"{show} ? format(datum.value, '.1f') : ''", labelFontSize=25,
                  labelPadding=3, labelOverlap=False, labelFlush=False)
    if title:
        kw.update(titleFontSize=38, titlePadding=16, titleY=title_y)
    return alt.Axis(**kw)


def txt(s, x, y, size, italic=True, font=FONT):
    return alt.Chart(ONE).mark_text(
        text=s, font=font, fontSize=size, fontStyle="italic" if italic else "normal",
        align="left", baseline="alphabetic", color="black",
    ).encode(x=alt.value(x), y=alt.value(y))


def box(x1, y1, x2, y2, stroke, fill="white", width=1.2):
    return alt.Chart(ONE).mark_rect(fill=fill, stroke=stroke, strokeWidth=width).encode(
        x=alt.value(x1), x2=alt.value(x2), y=alt.value(y1), y2=alt.value(y2))


def ratio_label(ref, x1, y1, x2, y2, sx, base, border):
    return [
        box(x1, y1, x2, y2, border),
        txt("S", sx, base, 38), txt("TW", sx + 31, base - 23, 21),
        txt("/", sx + 69, base, 38), txt("S", sx + 94, base, 38),
        txt(ref, sx + 119, base - 23, 21),
    ]


def panel(df, color, side, width, shades, xtitle=None, xtitle_x=None, ytitle=None, ytitle_y=None,
          top_row=False, extra=()):
    grid = pd.DataFrame({"ratio": GRID_AT, "shade": shades})
    second = y_axis("left", labels=False) if side == "right" else None
    rules = alt.Chart(grid).mark_rule(strokeWidth=1.2).encode(
        y=alt.Y("ratio:Q", scale=YSCALE, axis=second),
        color=alt.Color("shade:N", scale=None),
    )
    dots = alt.Chart(df).mark_point(
        shape="circle", filled=True, fill="white", stroke=color, strokeWidth=1, size=46, opacity=1, clip=True,
    ).encode(
        x=alt.X("S:Q", scale=XSCALE, axis=x_axis(xtitle, xtitle_x)),
        y=alt.Y("ratio:Q", scale=YSCALE,
                axis=y_axis(side, title=ytitle, title_y=ytitle_y, top_row=top_row)),
    )
    return alt.layer(rules, dots, *extra).resolve_axis(y="independent").properties(width=width, height=515)


h2o = [
    alt.Chart(ONE).mark_rect(opacity=0).encode(
        x=alt.value(-115), x2=alt.value(-114), y=alt.value(200), y2=alt.value(201)),
    box(-56, -42, 103, 64, "black", fill="black"),
    box(-60, -46, 99, 60, "black", width=1.5),
    txt("H", -51, 24, 56, italic=False, font="Liberation Sans"),
    txt("2", -11, 46, 28, italic=False, font="Liberation Sans"),
    txt("16", 15, -9, 28, italic=False, font="Liberation Sans"),
    txt("O", 49, 24, 56, italic=False, font="Liberation Sans"),
]

tl = panel(table(fts_points, (fts_core_logS, fts_core_pct), (fts_fill_logS, fts_fill_pct)),
           "#e00000", "left", 362, TOP_SHADES, ytitle="Intensity ratio", ytitle_y=271, top_row=True,
           extra=h2o + ratio_label("FTS2014", 166, -30, 389, 23, 175, 16, "black"))
tr = panel(table(crds_points, (crds_core_logS, crds_core_pct), (crds_fill_logS, crds_fill_pct)),
           "#107c10", "right", 374, TOP_SHADES, top_row=True,
           extra=ratio_label("CRDS2015", 174, -26, 427, 27, 182, 18, "black"))
bl = panel(table(hitran_points, (hitran_core_logS, hitran_core_pct), (hitran_fill_logS, hitran_fill_pct)),
           "#14147a", "left", 362, BOTTOM_SHADES,
           xtitle="Line intensity (cm/molecule)", xtitle_x=157, ytitle="Intensity ratio", ytitle_y=254,
           extra=ratio_label("HITRAN", 130, 442, 344, 495, 137, 487, "#777777"))
br = panel(table(w2020_points, (w2020_core_logS, w2020_core_pct), (w2020_fill_logS, w2020_fill_pct)),
           "#000000", "right", 374, BOTTOM_SHADES,
           xtitle="Line intensity (cm/molecule)", xtitle_x=198,
           extra=ratio_label("W2020", 180, 439, 388, 493, 187, 483, "#777777"))

chart = alt.concat(
    tl, tr, bl, br, columns=2, spacing={"row": 89, "column": 70}, bounds="flush"
).properties(
    padding={"left": 0, "top": -5, "right": 0, "bottom": 0}
).configure_axis(
    labelFont=FONT, titleFont=FONT, labelColor="black", titleColor="black", titleFontWeight="normal",
).configure_view(stroke="black", strokeWidth=1.5)

chart.save("out.html", embed_options={"renderer": "svg", "actions": False})
